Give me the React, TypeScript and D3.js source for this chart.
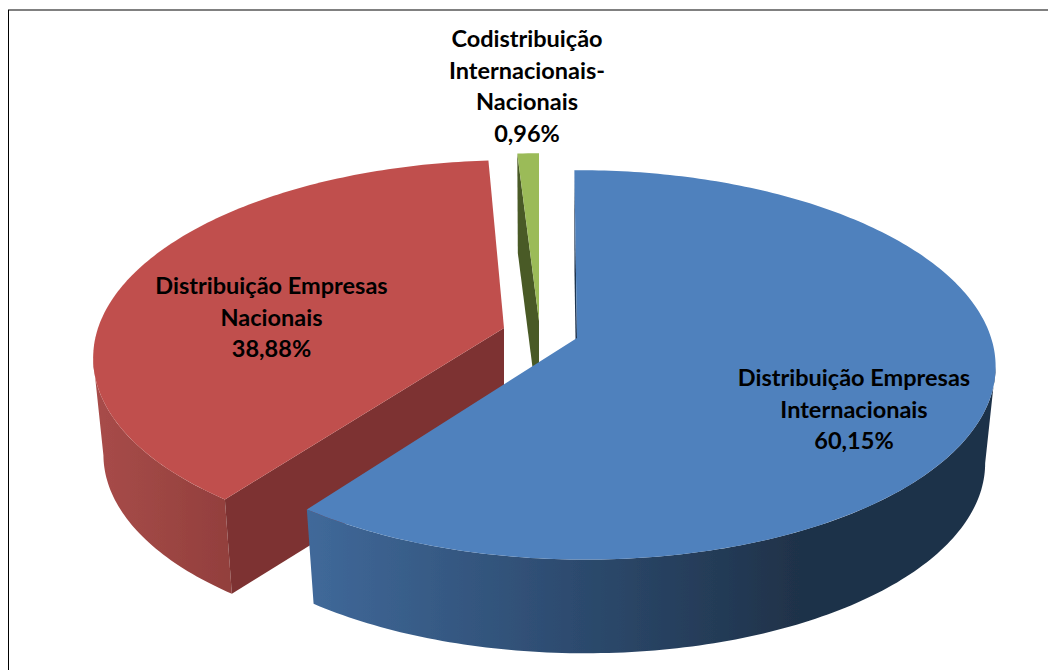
import React from "react";
import * as d3 from "d3";

const names = ["Distribuição Empresas Internacionais", "Distribuição Empresas Nacionais", "Codistribuição Internacionais-Nacionais"];
const shares = [60.15, 38.88, 0.96];
const labelLines = [
  ["Distribuição Empresas", "Internacionais", "60,15%"],
  ["Distribuição Empresas", "Nacionais", "38,88%"],
  ["Codistribuição", "Internacionais-", "Nacionais", "0,96%"],
];
const labelAnchors: [number, number][] = [[854, 386], [271.5, 294], [527, 47]];
const apexes: [number, number][] = [[577, 338], [504, 328], [539, 321]];
const skews = [-3, 7, 0];
const topColors = ["#4f81bd", "#c0504d", "#9bbb59"];
const cutColors = ["#1f344f", "#7d3331", "#4a5a26"];

const A = 410, B = 191, K = 0.138, M = -0.01, H = 97, SX = 0.975, SY = 0.985;

type P = [number, number];
function rim(i: number, t: number, bottom: boolean): P {
  const d = 1 + K * Math.cos(t) + M * Math.sin(t);
  const sx = bottom ? SX : 1;
  const sy = bottom ? SY : 1;
  const apex = apexes[i];
  return [
    apex[0] + (sx * (A * Math.sin(t) + skews[i] * Math.cos(t))) / d,
    apex[1] - (sy * B * Math.cos(t)) / d + (bottom ? H : 0),
  ];
}
function core(i: number, bottom: boolean): P {
  return [apexes[i][0], apexes[i][1] + (bottom ? H : 0)];
}
const line = d3.line<P>().x((p) => p[0]).y((p) => p[1]);
function arc(i: number, a0: number, a1: number, bottom: boolean): P[] {
  const n = Math.max(4, Math.ceil(Math.abs(a1 - a0) * 60));
  return d3.range(n + 1).map((k) => rim(i, a0 + ((a1 - a0) * k) / n, bottom));
}
function angles(a0: number, a1: number): number[] {
  return d3.range(241).map((k) => a0 + ((a1 - a0) * k) / 240);
}

const arcs = d3.pie<number>().sort(null).value((v) => v).startAngle(0).endAngle(2 * Math.PI)(shares);

export default function App() {
  const blue = arcs[0], red = arcs[1], green = arcs[2];
  // Visible side starts where each slice's rim reaches its outermost x.
  const blueEdge = d3.greatest(angles(blue.startAngle, blue.endAngle), (t) => rim(0, t, false)[0])!;
  const redEdge = d3.least(angles(red.startAngle, red.endAngle), (t) => rim(1, t, false)[0])!;
  const sideBlue = [...arc(0, blueEdge, blue.endAngle, false), ...arc(0, blue.endAngle, blueEdge, true)];
  const sideRed = [...arc(1, red.startAngle, redEdge, false), ...arc(1, redEdge, red.startAngle, true)];
  const wedge = (i: number) => {
    const a = arcs[i];
    return line([core(i, false), ...arc(i, a.startAngle, a.endAngle, false)])! + "Z";
  };
  const cut = (i: number, t: number) =>
    line([core(i, false), rim(i, t, false), rim(i, t, true), core(i, true)])! + "Z";

  return (
    <svg width={1048} height={670} viewBox="0 0 1048 670" style={{ position: "absolute", left: 0, top: 0, background: "#fff" }}>
      <defs>
        <linearGradient id="blueSide" gradientUnits="userSpaceOnUse" x1={306} x2={800} y1={0} y2={0}>
          <stop offset="0" stopColor="#40699a" />
          <stop offset="0.5" stopColor="#2e4d72" />
          <stop offset="1" stopColor="#1f3249" />
        </linearGradient>
        <linearGradient id="redSide" gradientUnits="userSpaceOnUse" x1={93} x2={232} y1={0} y2={0}>
          <stop offset="0" stopColor="#a84c49" />
          <stop offset="1" stopColor="#923f3d" />
        </linearGradient>
        <filter id="soft" x="-5%" y="-5%" width="110%" height="110%">
          <feGaussianBlur stdDeviation="0.5" />
        </filter>
      </defs>
      <rect x={8} y={9} width={1040} height={2} fill="#808080" />
      <rect x={8} y={10} width={1} height={660} fill="#000" />

      <g filter="url(#soft)">
        <path d={cut(2, green.startAngle)} fill={cutColors[2]} />
        <path d={wedge(2)} fill={topColors[2]} />

        <path d={line(sideRed)! + "Z"} fill="url(#redSide)" />
        <path d={cut(1, red.startAngle)} fill={cutColors[1]} />
        <path d={wedge(1)} fill={topColors[1]} />

        <path d={line(sideBlue)! + "Z"} fill="url(#blueSide)" />
        <path d={cut(0, blue.startAngle)} fill={cutColors[0]} />
        <path d={wedge(0)} fill={topColors[0]} />
      </g>

      {labelLines.map((ls, i) => (
        <text key={names[i]} fontFamily="Lato, 'Open Sans', sans-serif" fontWeight={700} fontSize={23.5} textAnchor="middle" fill="#000">
          {ls.map((t, j) => (
            <tspan key={j} x={labelAnchors[i][0]} y={labelAnchors[i][1] + j * 31.7}>{t}</tspan>
          ))}
        </text>
      ))}
    </svg>
  );
}
